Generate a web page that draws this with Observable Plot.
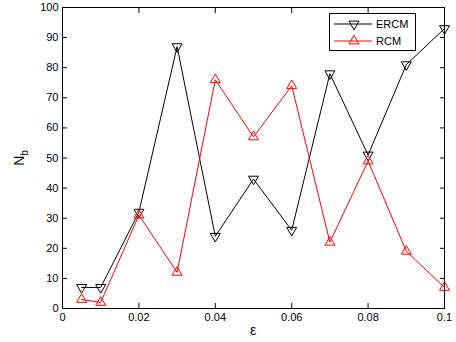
<!DOCTYPE html>
<html><head><meta charset="utf-8">
<script src="https://cdn.jsdelivr.net/npm/d3@7"></script>
<script src="https://cdn.jsdelivr.net/npm/@observablehq/plot@0.6"></script>
<style>
body{margin:0;background:#fff;font-family:"Liberation Sans",Arial,sans-serif;}
#wrap{position:relative;width:456px;height:342px;}
#legend{position:absolute;left:329px;top:13px;}
</style></head>
<body><div id="wrap"></div>
<script>
const eps = [0.005, 0.01, 0.02, 0.03, 0.04, 0.05, 0.06, 0.07, 0.08, 0.09, 0.1];
const ercm = [7, 7, 32, 87, 24, 43, 26, 78, 51, 81, 93];
const rcm = [3, 2, 31, 12, 76, 57, 74, 22, 49, 19, 7];
const xTicks = [0, 0.02, 0.04, 0.06, 0.08, 0.1];
const yTicks = [0,10,20,30,40,50,60,70,80,90,100];

const dE = eps.map((x,i)=>({x, y: ercm[i]}));
const dR = eps.map((x,i)=>({x, y: rcm[i]}));

const chart = Plot.plot({
  width: 456, height: 342,
  marginLeft: 62, marginRight: 12, marginTop: 7, marginBottom: 34,
  style: {fontFamily: '"Liberation Sans",Arial,sans-serif', fontSize: "11px", color: "#000", background: "#fff"},
  x: {domain: [0, 0.1]},
  y: {domain: [0, 100]},
  marks: [
    Plot.frame({stroke: "#000", strokeWidth: 1}),
    Plot.axisX({anchor: "bottom", ticks: xTicks, tickSize: -5, tickPadding: 10, tickFormat: d => d === 0 ? "0" : d3.format("~g")(d), label: null, fontSize: 11}),
    Plot.axisX({anchor: "top", ticks: xTicks, tickSize: -5, tickFormat: () => "", label: null}),
    Plot.axisY({anchor: "left", ticks: yTicks, tickSize: -5, tickPadding: 9, label: null, fontSize: 11}),
    Plot.axisY({anchor: "right", ticks: yTicks, tickSize: -5, tickFormat: () => "", label: null}),
    Plot.line(dE, {x: "x", y: "y", stroke: "#000", strokeWidth: 1}),
    Plot.dot(dE, {x: "x", y: "y", symbol: "triangle", r: 3.7, rotate: 180, stroke: "#000", fill: "none", strokeWidth: 1}),
    Plot.line(dR, {x: "x", y: "y", stroke: "#ff0000", strokeWidth: 1}),
    Plot.dot(dR, {x: "x", y: "y", symbol: "triangle", r: 3.7, stroke: "#ff0000", fill: "none", strokeWidth: 1})
  ]
});
const wrap = document.getElementById("wrap");
wrap.appendChild(chart);

// axis titles
const svg = d3.select(chart);
svg.append("text").attr("x", 253).attr("y", 335).attr("text-anchor", "middle")
  .attr("font-size", 14).attr("fill", "#000").text("ε");
const yl = svg.append("text").attr("transform", "translate(24,158) rotate(-90)")
  .attr("text-anchor", "middle").attr("font-size", 14).attr("fill", "#000");
yl.append("tspan").text("N");
yl.append("tspan").attr("font-size", 10).attr("dy", 4).text("b");

// legend
const series = [{name: "ERCM", color: "#000", rot: 180}, {name: "RCM", color: "#ff0000", rot: 0}];
const lg = d3.select(wrap).append("svg").attr("id", "legend").attr("width", 87).attr("height", 38);
lg.append("rect").attr("x", 0.5).attr("y", 0.5).attr("width", 86).attr("height", 37).attr("fill", "#fff").attr("stroke", "#000");
series.forEach((s, i) => {
  const cy = 11 + i * 17;
  lg.append("line").attr("x1", 5).attr("x2", 43).attr("y1", cy).attr("y2", cy).attr("stroke", s.color);
  lg.append("path").attr("d", d3.symbol(d3.symbolTriangle, 43)()).attr("transform", `translate(25,${cy}) rotate(${s.rot})`)
    .attr("fill", "none").attr("stroke", s.color);
  lg.append("text").attr("x", 47).attr("y", cy + 4).attr("font-size", 11).attr("fill", "#000").text(s.name);
});
</script></body></html>
